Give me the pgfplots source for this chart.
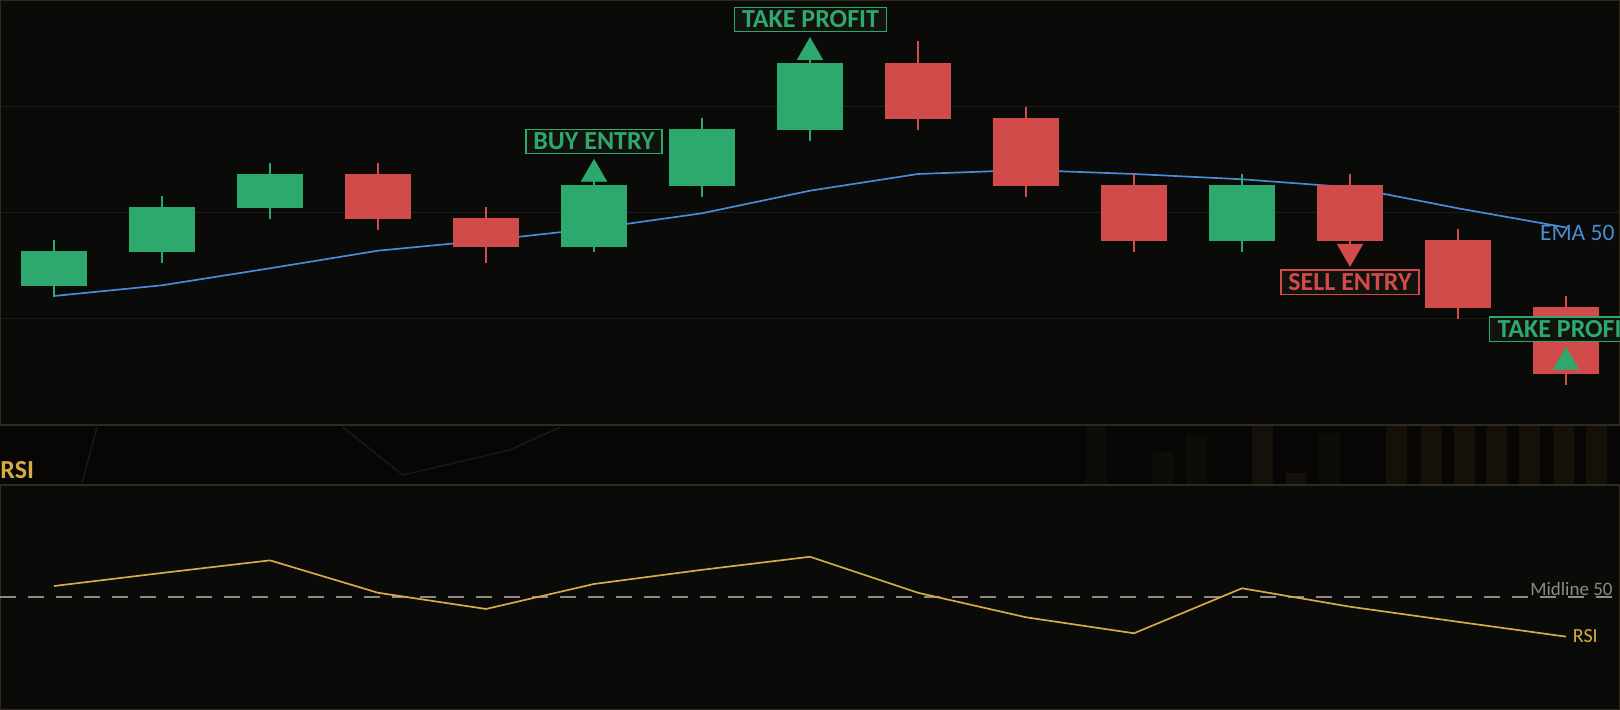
\documentclass[border=0pt]{standalone}
\usepackage{pgfplots}
\usepackage{pgfplotstable}
\pgfplotsset{compat=1.18}
\usepackage{fontspec}
\setmainfont{Carlito}
\definecolor{bgc}{HTML}{0A0A08}
\definecolor{bandc}{HTML}{070605}
\definecolor{framec}{HTML}{2E2A1E}
\definecolor{gridc}{HTML}{1D1B17}
\definecolor{cgreen}{HTML}{2EA96E}
\definecolor{cred}{HTML}{D24B4B}
\definecolor{cblue}{HTML}{4A8BD6}
\definecolor{cgold}{HTML}{D6AB45}
\definecolor{midc}{HTML}{8E8A80}
\definecolor{labfill}{HTML}{12120E}
\definecolor{ghostA}{HTML}{0E0C09}
\definecolor{ghostB}{HTML}{15100A}
\definecolor{ghostL}{HTML}{191816}

% candles: x, open, high, low, close
\pgfplotstableread{
x o h l c
0 139.3 185 128.3 174
1 173.3 229 162.3 218
2 217.3 262 206.3 251
5 178.3 249 173.3 240
6 239.3 307 228.3 296
7 295.3 373 284.3 362
11 184.3 251 173.3 240
}\greencandles
\pgfplotstableread{
x o h l c
3 251 262 195.3 206.3
4 207 218 162.3 178.3
8 362 384 295.3 306.3
9 307 318 228.3 239.3
10 240 251.3 173.3 184.3
12 240 251 173.3 184.3
13 185 196 106 117.3
14 118 129 40 51.3
}\redcandles
\pgfplotstableread{
x ema
0 129
1 139.7
2 156.7
3 174.3
4 184.6
5 196.5
6 211.7
7 234.3
8 251
9 255
10 251
11 245.7
12 237.7
13 216.7
14 197.5
}\ematab
\pgfplotstableread{
x rsi
0 55.1
1 60.9
2 66.5
3 52.1
4 44.9
5 56.0
6 62.3
7 68.1
8 52.1
9 41.2
10 34.1
11 54.1
12 45.9
13 39.2
14 32.6
}\rsitab

\tikzset{lab/.style={font=\bfseries\fontsize{13}{13}\selectfont, fill=labfill, draw=#1, text=#1, line width=0.6pt, inner sep=0pt, minimum height=12.25pt, anchor=center}}
\pgfplotsset{candle/.style 2 args={only marks, mark=*, mark size=0pt, mark options={draw=none, fill=none},
  error bars/.cd, y dir=minus, y explicit, error mark=none,
  error bar style={line width=#1, draw=#2}}}

\begin{document}
\begin{tikzpicture}
\useasboundingbox (0,0) rectangle (810pt,355pt);
\clip (0,0) rectangle (810pt,355pt);
\fill[bgc] (0,0) rectangle (810pt,355pt);
\fill[bandc] (0,112.5pt) rectangle (810pt,142.5pt);

% faint band decoration
\begin{axis}[at={(0pt,112.5pt)}, anchor=south west, scale only axis,
  width=810pt, height=30pt, xmin=-0.5, xmax=14.5, ymin=0, ymax=60, hide axis]
\addplot[ybar, bar width=10.5pt, bar shift=0pt, fill=ghostA, draw=none]
  coordinates {(9.65,60)(10.27,33)(10.58,50)(11.81,52)};
\addplot[ybar, bar width=10.5pt, bar shift=0pt, fill=ghostB, draw=none]
  coordinates {(11.19,60)(11.5,12)(12.43,60)(12.75,60)(13.06,60)(13.36,60)(13.66,60)(13.98,60)(14.28,60)};
\addplot[ghostL, line width=0.8pt] coordinates {(0.398,58)(0.259,2)};
\addplot[ghostL, line width=0.8pt] coordinates {(2.67,58)(3.23,10)(4.22,35)(4.69,58)};
\end{axis}

% price panel
\begin{axis}[at={(0pt,142.5pt)}, anchor=south west, scale only axis,
  width=810pt, height=212.5pt, xmin=-0.5, xmax=14.5, ymin=0, ymax=425,
  xtick=\empty, ytick={106.25,212.5,318.75}, yticklabels={},
  major tick length=0pt, ymajorgrids, grid style={draw=gridc, line width=0.6pt},
  axis line style={draw=framec, line width=1.2pt}, clip=true]
\addplot[cblue, line width=0.85pt] table[x=x, y=ema] {\ematab};
% wicks
\addplot[candle={1.1pt}{cgreen}]
  table[x=x, y=h, y error minus expr=\thisrow{h}-\thisrow{l}] {\greencandles};
\addplot[candle={1.1pt}{cred}]
  table[x=x, y=h, y error minus expr=\thisrow{h}-\thisrow{l}] {\redcandles};
% bodies
\addplot[candle={33pt}{cgreen}]
  table[x=x, y=c, y error minus expr=\thisrow{c}-\thisrow{o}] {\greencandles};
\addplot[candle={33pt}{cred}]
  table[x=x, y=o, y error minus expr=\thisrow{o}-\thisrow{c}] {\redcandles};
% signal markers
\addplot[cgreen, only marks, mark=triangle*, mark size=7.5pt,
  mark options={draw=cgreen, fill=cgreen, line width=0.1pt}]
  coordinates {(5,250.9)(7,372.6)(14,62.8)};
\addplot[cred, only marks, mark=triangle*, mark size=7.5pt,
  mark options={draw=cred, fill=cred, line width=0.1pt, rotate=180}]
  coordinates {(12,173.4)};
\node[lab=cgreen, minimum width=68pt] at (axis cs:5,283.5) {BUY ENTRY};
\node[lab=cgreen, minimum width=76.2pt] at (axis cs:7.005,405.5) {TAKE PROFIT};
\node[lab=cred, minimum width=69pt] at (axis cs:12,142.7) {SELL ENTRY};
\node[lab=cgreen, minimum width=76.2pt] at (axis cs:14,95.7) {TAKE PROFIT};
\node[anchor=base east, inner sep=0pt, text=cblue, font=\fontsize{11.8}{12}\selectfont]
  at (axis cs:14.454,184.3) {EMA 50};
\end{axis}

% RSI title
\node[anchor=base west, inner sep=0pt, text=cgold, font=\bfseries\fontsize{13}{13}\selectfont]
  at (0pt,115.85pt) {RSI};

% RSI panel
\begin{axis}[at={(0pt,0pt)}, anchor=south west, scale only axis,
  width=810pt, height=112.5pt, xmin=-0.5, xmax=14.5, ymin=0, ymax=100,
  xtick=\empty, ytick=\empty, axis line style={draw=framec, line width=1.2pt}, clip=true]
\addplot[midc, line width=1pt, dash pattern=on 8pt off 6pt] coordinates {(-0.5,50)(14.5,50)};
\addplot[cgold, line width=0.85pt] table[x=x, y=rsi] {\rsitab};
\node[anchor=base east, inner sep=0pt, text=midc, font=\fontsize{9.5}{10}\selectfont]
  at (axis cs:14.435,50.8) {Midline 50};
\node[anchor=base west, inner sep=0pt, text=cgold, font=\fontsize{10}{10}\selectfont]
  at (axis cs:14.06,29.9) {RSI};
\end{axis}
\end{tikzpicture}
\end{document}
